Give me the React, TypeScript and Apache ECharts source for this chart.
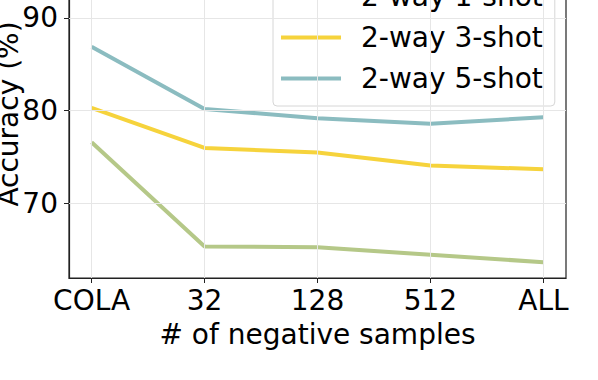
import React, { useEffect, useRef } from "react";
import * as echarts from "echarts";

const categories = ["COLA", "32", "128", "512", "ALL"];
const seriesNames = ["2-way 1-shot", "2-way 3-shot", "2-way 5-shot"];
const oneShot = [76.6, 65.4, 65.3, 64.5, 63.7];
const threeShot = [80.3, 76.0, 75.5, 74.1, 73.7];
const fiveShot = [86.9, 80.2, 79.2, 78.6, 79.3];
const yTicks = [70, 80, 90];
const colors = ["#b5c888", "#f6d33c", "#8bbcc0"];

const FONT = "DejaVu Sans";
const FS = 28;

export default function App() {
  const ref = useRef<HTMLDivElement>(null);
  useEffect(() => {
    if (!ref.current) return;
    const chart = echarts.init(ref.current, undefined, { renderer: "svg" });
    const allData = [oneShot, threeShot, fiveShot];
    const xTicks = categories.map((_, i) => i);
    chart.setOption({
      animation: false,
      backgroundColor: "#ffffff",
      textStyle: { fontFamily: FONT },
      grid: {
        left: 69,
        right: 32,
        top: -50,
        bottom: 102,
        show: true,
        borderColor: "#222",
        borderWidth: 1.2,
        containLabel: false,
        outerBoundsMode: "none",
      },
      legend: {
        orient: "vertical",
        left: 273,
        top: -31,
        padding: [7, 12, 7, 8],
        itemGap: 0,
        itemWidth: 60,
        itemHeight: 4,
        icon: "rect",
        backgroundColor: "#ffffff",
        borderColor: "#d6d6d6",
        borderWidth: 1,
        borderRadius: 4,
        textStyle: {
          fontFamily: FONT,
          fontSize: FS,
          color: "#000",
          lineHeight: 41,
          padding: [0, 0, 0, 15],
        },
        data: seriesNames,
      },
      xAxis: {
        type: "value",
        min: -0.2,
        max: 4.2,
        name: "# of negative samples",
        nameLocation: "middle",
        nameGap: 42,
        nameMoveOverlap: false,
        nameTextStyle: { fontFamily: FONT, fontSize: FS, color: "#000" },
        axisLine: { show: true, onZero: false, lineStyle: { color: "#222", width: 1.2 } },
        axisTick: { show: true, length: 5, lineStyle: { color: "#222" }, customValues: xTicks },
        axisLabel: {
          fontFamily: FONT,
          fontSize: FS,
          color: "#000",
          margin: 8,
          customValues: xTicks,
          formatter: (v: number) => categories[Math.round(v)] ?? "",
        },
        splitLine: { show: false },
      },
      yAxis: {
        type: "value",
        min: 62,
        max: 97.3,
        name: "Accuracy (%)",
        nameLocation: "middle",
        nameGap: 47,
        nameMoveOverlap: false,
        nameTextStyle: { fontFamily: FONT, fontSize: FS, color: "#000" },
        axisLine: { show: true, onZero: false, lineStyle: { color: "#222", width: 1.2 } },
        axisTick: { show: true, length: 5, lineStyle: { color: "#222" }, customValues: yTicks },
        axisLabel: {
          fontFamily: FONT,
          fontSize: FS,
          color: "#000",
          margin: 11,
          customValues: yTicks,
        },
        splitLine: { show: false },
      },
      series: [
        {
          type: "line",
          data: [],
          silent: true,
          markLine: {
            silent: true,
            symbol: "none",
            label: { show: false },
            lineStyle: { color: "#e6e6e6", width: 1, type: "solid" },
            data: [
              ...yTicks.map((v) => ({ yAxis: v })),
              ...xTicks.map((v) => ({ xAxis: v })),
            ],
          },
          z: 1,
        },
        ...seriesNames.map((name, i) => ({
          name,
          type: "line",
          data: allData[i].map((v, j) => [j, v]),
          showSymbol: false,
          symbol: "none",
          lineStyle: { color: colors[i], width: 4 },
          itemStyle: { color: colors[i] },
          z: 3,
        })),
      ],
    });
    return () => chart.dispose();
  }, []);
  return (
    <div
      ref={ref}
      style={{ position: "fixed", left: 0, top: 0, width: 598, height: 380 }}
    />
  );
}
